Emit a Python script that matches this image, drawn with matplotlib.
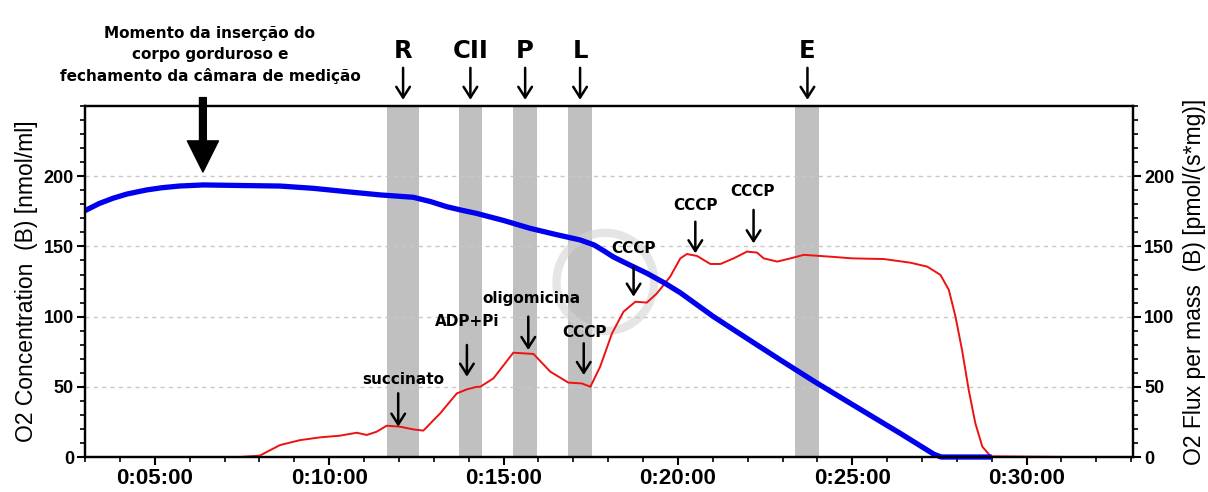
import matplotlib
matplotlib.use("Agg")
import matplotlib.pyplot as plt
from matplotlib.ticker import MultipleLocator, FuncFormatter
from matplotlib.patches import Ellipse

# oxigênio na câmara (nmol/ml), tempo em minutos
t_conc = [3.0, 3.4, 3.8, 4.2, 4.76, 5.2, 5.7, 6.39, 7.44, 8.59, 9.54, 10.5, 11.46,
          12.41, 12.9, 13.37, 13.8, 14.23, 15.0, 15.76, 16.5, 17.2, 17.6, 17.9,
          18.15, 18.6, 19.11, 19.6, 20.07, 21.02, 21.98, 22.94, 23.9, 24.47,
          25.43, 26.38, 27.34, 27.55, 29.0]
conc = [175.5, 180.5, 184.3, 187.3, 190.2, 191.8, 193.0, 193.8, 193.4, 193.0, 191.4,
        189.0, 186.7, 185.0, 182.0, 178.3, 175.8, 173.5, 168.5, 162.9, 158.5, 154.6,
        151.0, 146.5, 142.5, 137.0, 130.9, 124.2, 117.0, 100.0, 84.5, 69.1, 54.0,
        45.4, 31.0, 16.8, 2.0, 0, 0]

# fluxo de O2 por massa (pmol/(s*mg))
t_flux = [7.44, 8.01, 8.59, 9.16, 9.74, 10.31, 10.79, 11.08, 11.36, 11.65, 12.03,
          12.41, 12.7, 13.18, 13.66, 13.95, 14.23, 14.33, 14.71, 15.28, 15.86,
          16.34, 16.86, 17.25, 17.49, 17.77, 18.11, 18.44, 18.78, 19.11, 19.4,
          19.78, 20.07, 20.26, 20.55, 20.93, 21.22, 21.6, 21.98, 22.27, 22.46,
          22.85, 23.23, 23.61, 24.37, 25.0, 25.91, 26.67, 27.15, 27.53, 27.77,
          27.96, 28.15, 28.34, 28.53, 28.73, 28.97, 31.35]
flux = [0, 1, 8.5, 12, 14, 15.2, 17.3, 15.7, 18, 22.3, 21.6,
        19.7, 18.8, 31, 45.3, 48.2, 50, 50, 56, 74.3, 73.4,
        60.8, 53, 52.4, 50, 64.3, 88, 103.5, 110.6, 110, 116.6,
        128.5, 141.5, 144.6, 143.2, 137.5, 137.5, 141.5, 146.3, 145.6, 141.5,
        139.2, 141.5, 144, 142.7, 141.5, 141, 138.4, 135.6, 129.7, 119,
        100, 76, 47.7, 24, 7.4, 0.5, 0]

# etapas do protocolo (faixas cinza)
etapas = ["R", "CII", "P", "L", "E"]
faixa_ini = [11.65, 13.71, 15.28, 16.86, 23.37]
faixa_fim = [12.59, 14.39, 15.96, 17.53, 24.06]

# adições de reagentes: texto, tempo, ponta da seta, início da seta, posição do texto
reag_nome = ["succinato", "ADP+Pi", "oligomicina", "CCCP", "CCCP", "CCCP", "CCCP"]
reag_t = [11.98, 13.95, 15.71, 17.30, 18.73, 20.50, 22.17]
reag_ponta = [21.6, 57.2, 76.2, 58.4, 114.2, 145.1, 152.2]
reag_cauda = [45.4, 79.8, 100.0, 81.0, 135.6, 167.6, 176.0]
reag_txt_t = [12.12, 13.95, 15.81, 17.32, 18.73, 20.50, 22.15]
reag_txt_y = [54.9, 96.4, 113.0, 88.8, 148.6, 179.5, 189.0]

fig = plt.figure(figsize=(12.08, 4.92), dpi=100)
ax = fig.add_axes([0.0704, 0.0711, 0.8675, 0.7134])

for a, b in zip(faixa_ini, faixa_fim):
    ax.axvspan(a, b, color="#c0c0c0", lw=0, zorder=0.2)

# marca d'água
ax.add_patch(Ellipse((17.92, 124.7), 2.8, 70, fill=False, ec="#d4d4d4", lw=6,
                     alpha=0.6, zorder=0.3))

ax.plot(t_conc, conc, color="#0000ee", lw=3.8, zorder=3, solid_capstyle="butt",
        clip_on=False)
ax.plot(t_flux, flux, color="#ee1111", lw=1.4, zorder=2.8, clip_on=False)

ax.set_xlim(3.0, 33.05)
ax.set_ylim(0, 250)
ax.xaxis.set_major_locator(MultipleLocator(5))
ax.xaxis.set_minor_locator(MultipleLocator(1))
ax.xaxis.set_major_formatter(FuncFormatter(lambda m, p: "0:%02d:00" % int(round(m))))
ax.yaxis.set_minor_locator(MultipleLocator(10))
ax.set_yticks([0, 50, 100, 150, 200])
ax.yaxis.grid(True, which="major", ls=(0, (3, 3)), color="#c8c8c8", lw=1)
ax.set_axisbelow(True)

ax2 = ax.twinx()
ax2.set_ylim(0, 250)
ax2.set_yticks([0, 50, 100, 150, 200])
ax2.yaxis.set_minor_locator(MultipleLocator(10))

for a in (ax, ax2):
    for s in a.spines.values():
        s.set_linewidth(1.6)
    a.tick_params(which="major", length=6, width=1.5, pad=2)
    a.tick_params(which="minor", length=3.5, width=1.2)

for lab in ax.get_xticklabels():
    lab.set_family(["Liberation Sans Narrow", "Liberation Sans"])
    lab.set_fontweight("bold")
    lab.set_fontsize(16)
for lab in ax.get_yticklabels() + ax2.get_yticklabels():
    lab.set_family("Liberation Sans")
    lab.set_fontweight("bold")
    lab.set_fontsize(13)

ax.set_ylabel("O2 Concentration  (B) [nmol/ml]", family="Liberation Sans",
              fontsize=16.5, labelpad=4)
ax2.set_ylabel("O2 Flux per mass  (B) [pmol/(s*mg)]", family="Liberation Sans",
               fontsize=16.5, labelpad=6, rotation=90)

# setas dos reagentes
for nome, t, p, c, tx, ty in zip(reag_nome, reag_t, reag_ponta, reag_cauda,
                                 reag_txt_t, reag_txt_y):
    ax.annotate("", xy=(t, p), xytext=(t, c),
                arrowprops=dict(arrowstyle="->,head_length=0.55,head_width=0.35",
                                lw=1.8, color="black", mutation_scale=14,
                                shrinkA=0, shrinkB=0), zorder=5)
    ax.text(tx, ty, nome, ha="center", va="center", fontsize=11,
            fontweight="bold", family="DejaVu Sans", zorder=5)

# letras das etapas acima do gráfico
for nome, a, b in zip(etapas, faixa_ini, faixa_fim):
    xm = (a + b) / 2
    ax.annotate("", xy=(xm, 254.4), xytext=(xm, 277.2), annotation_clip=False,
                arrowprops=dict(arrowstyle="->,head_length=0.55,head_width=0.35",
                                lw=1.8, color="black", mutation_scale=14,
                                shrinkA=0, shrinkB=0))
    ax.text(xm, 289.5, nome, ha="center", va="center", fontsize=17.5,
            fontweight="bold", family="DejaVu Sans", clip_on=False)

# inserção do corpo gorduroso
ax.annotate("", xy=(6.38, 203), xytext=(6.38, 256), annotation_clip=False,
            arrowprops=dict(arrowstyle="simple,head_length=1.6,head_width=1.6,tail_width=0.35",
                            color="black", mutation_scale=14, shrinkA=0, shrinkB=0))
ax.text(6.58, 286.4, "Momento da inserção do\ncorpo gorduroso e\nfechamento da câmara de medição",
        ha="center", va="center", fontsize=11, fontweight="bold", family="DejaVu Sans",
        linespacing=1.45, clip_on=False)

fig.savefig("out.png", dpi=100)
